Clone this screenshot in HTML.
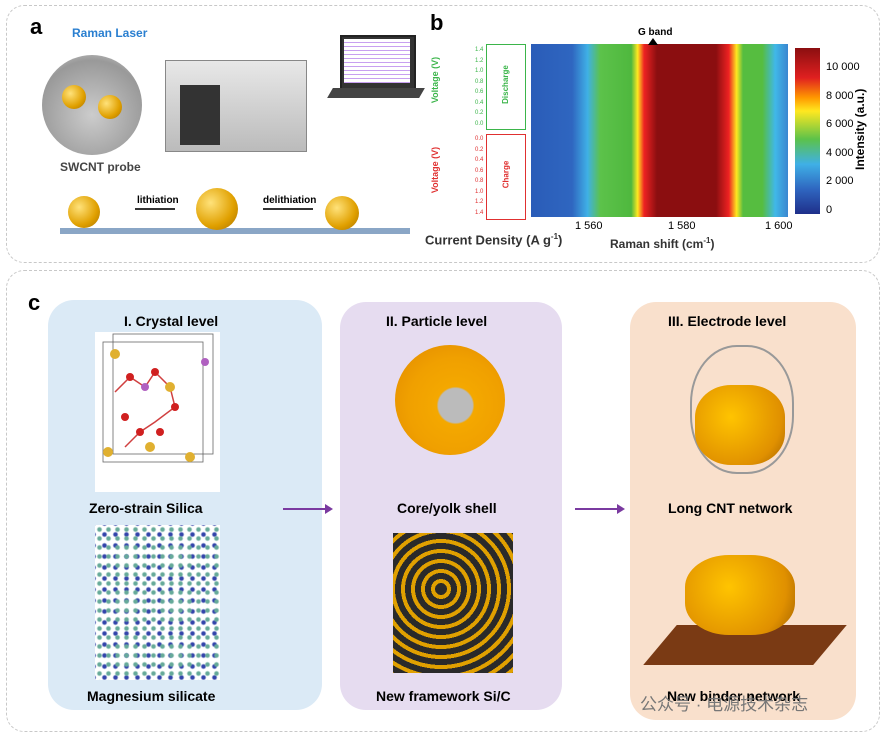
<!DOCTYPE html><html><head><meta charset="utf-8"><style>
body{margin:0;width:885px;height:736px;background:#fff;position:relative;overflow:hidden;font-family:"Liberation Sans","Noto Sans CJK SC",sans-serif}
.a{position:absolute;white-space:nowrap}
.b{font-weight:bold}
.ball{position:absolute;border-radius:50%;background:radial-gradient(circle at 35% 35%,#ffe27a,#e0a000 60%,#a87000)}
</style></head><body>
<div class="a" style="left:6px;top:5px;width:872px;height:256px;border:1.5px dashed #c8c8c8;border-radius:18px"></div>
<div class="a" style="left:6px;top:270px;width:872px;height:460px;border:1.5px dashed #c8c8c8;border-radius:18px"></div>
<div class="a b" style="left:30px;top:14px;font-size:22px">a</div>
<div class="a b" style="left:430px;top:10px;font-size:22px">b</div>
<div class="a b" style="left:28px;top:290px;font-size:22px">c</div>
<!-- panel a -->
<div class="a b" style="left:72px;top:26px;font-size:12px;color:#2a7fd0">Raman Laser</div>
<div class="a" style="left:42px;top:55px;width:100px;height:100px;border-radius:50%;background:radial-gradient(circle at 50% 60%,#ccc,#999 70%,#ddd)"></div>
<div class="ball" style="left:62px;top:85px;width:24px;height:24px"></div>
<div class="ball" style="left:98px;top:95px;width:24px;height:24px"></div>
<div class="a b" style="left:60px;top:160px;font-size:12px;color:#444">SWCNT probe</div>
<div class="a" style="left:165px;top:60px;width:140px;height:90px;background:linear-gradient(#e8e8e8,#bbb);border:1px solid #888"></div>
<div class="a" style="left:180px;top:85px;width:40px;height:60px;background:#333"></div>
<div class="a" style="left:340px;top:35px;width:72px;height:52px;background:#333;border:2px solid #222"></div>
<div class="a" style="left:344px;top:39px;width:66px;height:44px;background:repeating-linear-gradient(#fff 0 3px,#c8a0f0 3px 4px)"></div>
<div class="a" style="left:330px;top:88px;width:92px;height:10px;background:#444;transform:skewX(-30deg)"></div>
<div class="a b" style="left:137px;top:195px;font-size:10px">lithiation</div>
<div class="a b" style="left:263px;top:195px;font-size:10px">delithiation</div>
<div class="a" style="left:60px;top:228px;width:350px;height:6px;background:#8aa6c6"></div>
<div class="ball" style="left:68px;top:196px;width:32px;height:32px"></div>
<div class="ball" style="left:196px;top:188px;width:42px;height:42px"></div>
<div class="ball" style="left:325px;top:196px;width:34px;height:34px"></div>
<div class="a" style="left:135px;top:208px;width:40px;height:0;border-top:2px solid #333"></div>
<div class="a" style="left:263px;top:208px;width:50px;height:0;border-top:2px solid #333"></div>
<!-- panel b -->
<div class="a" style="left:486px;top:44px;width:38px;height:84px;border:1.5px solid #3bb54a"></div>
<div class="a" style="left:486px;top:134px;width:38px;height:84px;border:1.5px solid #e03030"></div>
<div class="a b" style="left:412px;top:75px;font-size:9px;color:#3bb54a;transform:rotate(-90deg)">Voltage (V)</div>
<div class="a b" style="left:412px;top:165px;font-size:9px;color:#e03030;transform:rotate(-90deg)">Voltage (V)</div>
<div class="a" style="left:475px;top:45px;font-size:6px;line-height:10.5px;color:#3bb54a;text-align:right">1.4<br>1.2<br>1.0<br>0.8<br>0.6<br>0.4<br>0.2<br>0.0</div>
<div class="a" style="left:475px;top:134px;font-size:6px;line-height:10.5px;color:#e03030;text-align:right">0.0<br>0.2<br>0.4<br>0.6<br>0.8<br>1.0<br>1.2<br>1.4</div>
<div class="a b" style="left:486px;top:80px;font-size:8px;color:#3bb54a;transform:rotate(-90deg)">Discharge</div>
<div class="a b" style="left:492px;top:170px;font-size:8px;color:#e03030;transform:rotate(-90deg)">Charge</div>
<div class="a" style="left:531px;top:44px;width:257px;height:173px;background:linear-gradient(90deg,#2a5cb8 0%,#2f66c0 16%,#3fb0e6 22%,#5cc24a 27%,#4fb83e 39%,#ffe820 41.5%,#ee2222 44%,#8b0e10 49%,#8b0e10 72%,#ee2222 77%,#ffe820 80%,#56bd40 82.5%,#56bd40 90%,#40b8e8 95%,#3a86d0 100%)"></div>
<div class="a b" style="left:638px;top:27px;font-size:10px">G band</div>
<div class="a" style="left:648px;top:38px;width:0;height:0;border-left:5px solid transparent;border-right:5px solid transparent;border-bottom:7px solid #000"></div>
<div class="a" style="left:795px;top:48px;width:25px;height:166px;background:linear-gradient(#8b0e10,#e02020 18%,#ff9900 30%,#ffe820 38%,#5cc24a 55%,#3fb0e6 70%,#2f66c0 85%,#1f2f8a)"></div>
<div class="a" style="left:826px;top:53px;font-size:11px;line-height:28.5px">10 000<br>8 000<br>6 000<br>4 000<br>2 000<br>0</div>
<div class="a b" style="left:853px;top:170px;font-size:12px;transform:rotate(-90deg);transform-origin:left top">Intensity (a.u.)</div>
<div class="a" style="left:575px;top:220px;font-size:11px">1 560</div>
<div class="a" style="left:668px;top:220px;font-size:11px">1 580</div>
<div class="a" style="left:765px;top:220px;font-size:11px">1 600</div>
<div class="a b" style="left:425px;top:232px;font-size:13px;color:#333">Current Density (A g<sup style="font-size:8px">-1</sup>)</div>
<div class="a b" style="left:610px;top:236px;font-size:12px;color:#333">Raman shift (cm<sup style="font-size:8px">-1</sup>)</div>
<!-- panel c -->
<div class="a" style="left:48px;top:300px;width:274px;height:410px;background:#dbeaf6;border-radius:26px"></div>
<div class="a" style="left:340px;top:302px;width:222px;height:408px;background:#e6dcf0;border-radius:26px"></div>
<div class="a" style="left:630px;top:302px;width:226px;height:418px;background:#f9e0cc;border-radius:26px"></div>
<div class="a b" style="left:124px;top:313px;font-size:14px">I. Crystal level</div>
<div class="a b" style="left:386px;top:313px;font-size:14px">II. Particle level</div>
<div class="a b" style="left:668px;top:313px;font-size:14px">III. Electrode level</div>
<div class="a" style="left:95px;top:332px;width:125px;height:160px;background:#fff"></div>
<svg class="a" style="left:95px;top:332px" width="125" height="160"><g stroke="#666" fill="none" stroke-width="0.8"><rect x="8" y="10" width="100" height="120"/><rect x="18" y="2" width="100" height="120"/></g><g stroke="#d04040" stroke-width="1.5"><polyline points="20,60 35,45 50,55 60,40 75,55 80,75 60,90 45,100 30,115" fill="none"/></g><g fill="#d02020"><circle cx="35" cy="45" r="4"/><circle cx="60" cy="40" r="4"/><circle cx="80" cy="75" r="4"/><circle cx="45" cy="100" r="4"/><circle cx="65" cy="100" r="4"/><circle cx="30" cy="85" r="4"/></g><g fill="#e0b030"><circle cx="20" cy="22" r="5"/><circle cx="75" cy="55" r="5"/><circle cx="55" cy="115" r="5"/><circle cx="95" cy="125" r="5"/><circle cx="13" cy="120" r="5"/></g><g fill="#b060c0"><circle cx="50" cy="55" r="4"/><circle cx="110" cy="30" r="4"/></g></svg>
<div class="a" style="left:95px;top:525px;width:125px;height:155px;background:radial-gradient(circle,#6a9 1.5px,transparent 3px) 0 0/9px 9px,radial-gradient(circle,#34a 1.5px,transparent 3px) 4px 4px/11px 11px,#fff"></div>
<div class="a b" style="left:89px;top:500px;font-size:14px">Zero-strain Silica</div>
<div class="a b" style="left:87px;top:688px;font-size:14px">Magnesium silicate</div>
<div class="a" style="left:395px;top:345px;width:110px;height:110px;border-radius:50%;background:radial-gradient(circle at 55% 55%,#bbb 20%,#f4a800 22%,#f0a000 55%,#e08800)"></div>
<div class="a b" style="left:397px;top:500px;font-size:14px">Core/yolk shell</div>
<div class="a" style="left:393px;top:533px;width:120px;height:140px;background:repeating-radial-gradient(circle at 40% 40%,#2a2a2a 0 6px,#e0a000 6px 10px);"></div>
<div class="a b" style="left:376px;top:688px;font-size:14px">New framework Si/C</div>
<div class="a" style="left:690px;top:345px;width:100px;height:125px;border-radius:45%;border:2px solid #999"></div>
<div class="a" style="left:695px;top:385px;width:90px;height:80px;border-radius:40%;background:radial-gradient(circle at 40% 40%,#ffc400,#e09000 70%,#a06000)"></div>
<div class="a b" style="left:668px;top:500px;font-size:14px">Long CNT network</div>
<div class="a" style="left:660px;top:625px;width:170px;height:40px;background:#7a3a14;transform:skewX(-40deg)"></div>
<div class="a" style="left:685px;top:555px;width:110px;height:80px;border-radius:40%;background:radial-gradient(circle at 40% 40%,#ffc400,#e09000 70%,#a06000)"></div>
<div class="a b" style="left:667px;top:688px;font-size:14px">New binder network</div>
<div class="a" style="left:640px;top:690px;font-size:17px;color:#777">公众号 · 电源技术杂志</div>
<div class="a" style="left:283px;top:508px;width:44px;height:2px;background:#7a3aa0"></div>
<div class="a" style="left:325px;top:504px;border-left:8px solid #7a3aa0;border-top:5px solid transparent;border-bottom:5px solid transparent"></div>
<div class="a" style="left:575px;top:508px;width:44px;height:2px;background:#7a3aa0"></div>
<div class="a" style="left:617px;top:504px;border-left:8px solid #7a3aa0;border-top:5px solid transparent;border-bottom:5px solid transparent"></div>
</body></html>
